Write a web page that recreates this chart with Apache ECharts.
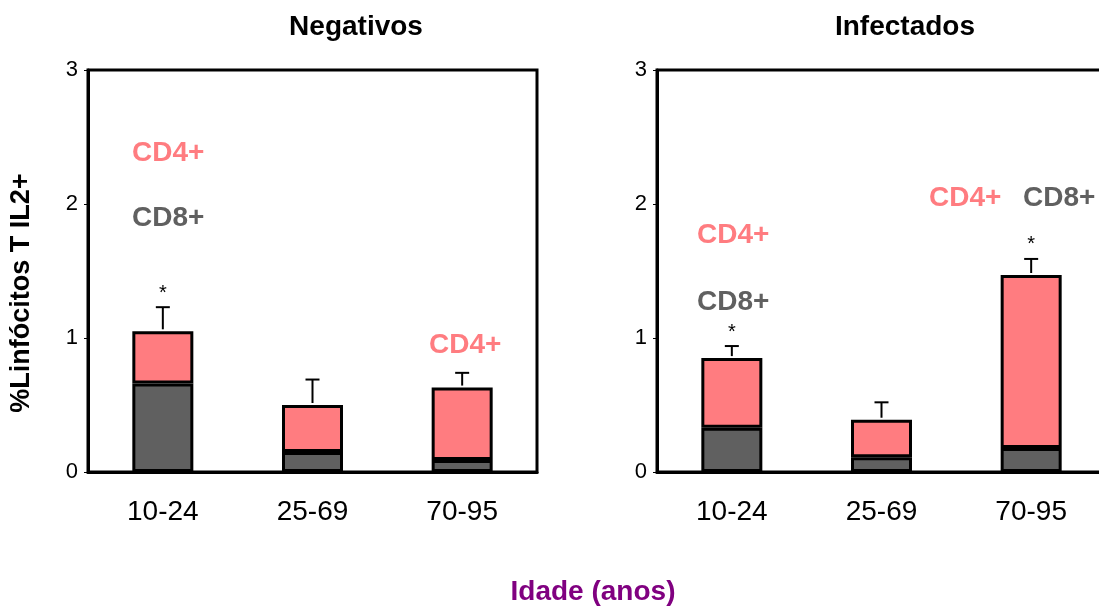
<!DOCTYPE html>
<html>
<head>
<meta charset="utf-8">
<script src="https://cdn.jsdelivr.net/npm/echarts@6/dist/echarts.min.js"></script>
<style>html,body{margin:0;padding:0;background:#fff;}#c{width:1099px;height:607px;}</style>
</head>
<body>
<div id="c"></div>
<script>
// ---- data ----
const categories = ['10-24', '25-69', '70-95'];
const yTicks = [0, 1, 2, 3];
// Negativos panel
const negCD8 = [0.66, 0.15, 0.09];
const negTotal = [1.05, 0.50, 0.63];
const negErrTop = [1.23, 0.69, 0.74];
const negStar = [true, false, false];
// Infectados panel
const infCD8 = [0.33, 0.11, 0.18];
const infTotal = [0.85, 0.39, 1.47];
const infErrTop = [0.94, 0.52, 1.59];
const infStar = [true, false, true];

const PINK = '#FF7C80';
const GRAY = '#606060';
const FONT = 'Liberation Sans, Arial, sans-serif';

function cd4(total, cd8) { return total.map((t, i) => +(t - cd8[i]).toFixed(3)); }

function errSeries(idx, total, errTop, star) {
  return {
    type: 'custom',
    xAxisIndex: idx, yAxisIndex: idx,
    data: categories.map((c, i) => [i, total[i], errTop[i], star[i] ? 1 : 0]),
    renderItem: function (params, api) {
      const x = api.value(0);
      const p0 = api.coord([x, api.value(1)]);
      const p1 = api.coord([x, api.value(2)]);
      const children = [
        { type: 'line', shape: { x1: p0[0], y1: p0[1] - 2, x2: p1[0], y2: p1[1] }, style: { stroke: '#000', lineWidth: 2 } },
        { type: 'line', shape: { x1: p1[0] - 7, y1: p1[1], x2: p1[0] + 7, y2: p1[1] }, style: { stroke: '#000', lineWidth: 2 } }
      ];
      if (api.value(3)) {
        children.push({ type: 'text', x: p1[0], y: p1[1] - 4, style: { text: '*', fill: '#000', font: '20px ' + FONT, align: 'center', verticalAlign: 'bottom' } });
      }
      return { type: 'group', children: children };
    },
    z: 5
  };
}

function barSeries(idx, vals, color) {
  return {
    type: 'bar', xAxisIndex: idx, yAxisIndex: idx, stack: 's' + idx,
    data: vals, barWidth: 61,
    itemStyle: { color: color, borderColor: '#000', borderWidth: 3 }
  };
}

function yAxis(idx) {
  return {
    gridIndex: idx, type: 'value', min: yTicks[0], max: yTicks[yTicks.length - 1], interval: 1,
    axisLine: { show: true, lineStyle: { color: '#000', width: 3 } },
    axisTick: { show: true, length: 4, lineStyle: { color: '#000', width: 1 } },
    axisLabel: { color: '#000', fontSize: 22, fontFamily: FONT, margin: 10, padding: [0, 0, 12, 0] },
    splitLine: { show: false }
  };
}
function xAxis(idx) {
  return {
    gridIndex: idx, type: 'category', data: categories,
    axisLine: { show: true, lineStyle: { color: '#000', width: 3 } },
    axisTick: { show: false },
    axisLabel: { color: '#000', fontSize: 28, fontFamily: FONT, margin: 26 }
  };
}

function ann(x, y, text, color) {
  return { type: 'text', left: x, top: y, style: { text: text, fill: color, font: 'bold 28px ' + FONT } };
}

const chart = echarts.init(document.getElementById('c'), null, { renderer: 'canvas' });
chart.setOption({
  animation: false,
  backgroundColor: '#fff',
  title: [
    { text: 'Negativos', left: 351, top: 8, textAlign: 'center', textStyle: { fontSize: 28, fontWeight: 'bold', color: '#000', fontFamily: FONT } },
    { text: 'Infectados', left: 900, top: 8, textAlign: 'center', textStyle: { fontSize: 28, fontWeight: 'bold', color: '#000', fontFamily: FONT } }
  ],
  grid: [
    { left: 88, top: 70, width: 449, height: 402, show: true, borderColor: '#000', borderWidth: 3, backgroundColor: 'transparent', outerBoundsMode: 'none' },
    { left: 657, top: 70, width: 449, height: 402, show: true, borderColor: '#000', borderWidth: 3, backgroundColor: 'transparent', outerBoundsMode: 'none' }
  ],
  xAxis: [xAxis(0), xAxis(1)],
  yAxis: [yAxis(0), yAxis(1)],
  series: [
    barSeries(0, negCD8, GRAY), barSeries(0, cd4(negTotal, negCD8), PINK),
    barSeries(1, infCD8, GRAY), barSeries(1, cd4(infTotal, infCD8), PINK),
    errSeries(0, negTotal, negErrTop, negStar),
    errSeries(1, infTotal, infErrTop, infStar)
  ],
  graphic: [
    { type: 'text', x: 22, y: 293, rotation: Math.PI / 2, style: { text: '%Linfócitos T IL2+', fill: '#000', font: 'bold 27px ' + FONT, align: 'center', verticalAlign: 'middle' } },
    { type: 'text', x: 593, y: 592, style: { text: 'Idade (anos)', fill: '#800080', font: 'bold 28px ' + FONT, align: 'center', verticalAlign: 'middle' } },
    ann(132, 139, 'CD4+', PINK),
    ann(132, 204, 'CD8+', GRAY),
    ann(429, 331, 'CD4+', PINK),
    ann(697, 221, 'CD4+', PINK),
    ann(697, 288, 'CD8+', GRAY),
    ann(929, 184, 'CD4+', PINK),
    ann(1023, 184, 'CD8+', GRAY)
  ]
});
</script>
</body>
</html>
